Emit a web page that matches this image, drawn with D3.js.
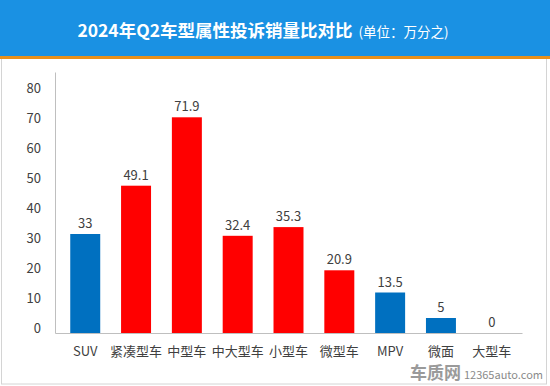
<!DOCTYPE html>
<html>
<head>
<meta charset="utf-8">
<script src="https://cdn.jsdelivr.net/npm/d3@7"></script>
<style>
  body { margin: 0; background: #fff; }
  text { font-family: "Microsoft YaHei", "Noto Sans CJK SC", "Open Sans", sans-serif; }
</style>
</head>
<body>
<svg width="550" height="386"></svg>
<script>
// categorias e valores (万分之)
const categories = ["SUV", "紧凑型车", "中型车", "中大型车", "小型车", "微型车", "MPV", "微面", "大型车"];
const values = [33, 49.1, 71.9, 32.4, 35.3, 20.9, 13.5, 5, 0];
const barColors = ["#0070C0", "#FF0000", "#FF0000", "#FF0000", "#FF0000", "#FF0000", "#0070C0", "#0070C0", "#0070C0"];
const yTicks = [0, 10, 20, 30, 40, 50, 60, 70, 80];

const svg = d3.select("svg"),
    width = +svg.attr("width"),
    height = +svg.attr("height");

// moldura e cabeçalho
svg.append("rect")
    .attr("x", 1.5).attr("y", 0.5)
    .attr("width", width - 5).attr("height", height - 2.5)
    .attr("fill", "#fff")
    .attr("stroke", "#d4d4d4");

svg.append("rect")
    .attr("x", 0).attr("y", 0)
    .attr("width", width).attr("height", 56)
    .attr("fill", "#1a91e3");

svg.append("rect")
    .attr("x", 0).attr("y", 56)
    .attr("width", width).attr("height", 3)
    .attr("fill", "#e8901c");

const title = svg.append("text")
    .attr("x", 263)
    .attr("y", 37)
    .attr("text-anchor", "middle")
    .attr("fill", "#fff");
title.append("tspan")
    .attr("font-size", 17.5)
    .attr("font-weight", "bold")
    .text("2024年Q2车型属性投诉销量比对比");
title.append("tspan")
    .attr("font-size", 13.5)
    .attr("dx", 6)
    .text("(单位：万分之)");

const x = d3.scaleBand()
    .domain(categories)
    .range([55, 522])
    .paddingInner(0.41)
    .paddingOuter(0.3);

const y = d3.scaleLinear()
    .domain([0, 87])
    .range([333, 72]);

// eixo Y
const gy = svg.append("g")
    .attr("transform", "translate(55,0)")
    .call(d3.axisLeft(y).tickValues(yTicks).tickSize(0).tickPadding(14));
gy.select(".domain").attr("stroke", "#bfbfbf");
gy.selectAll("text")
    .attr("font-size", 13)
    .attr("fill", "#404040")
    .attr("dy", "-0.05em");

// eixo X
const gx = svg.append("g")
    .attr("transform", "translate(0,333)")
    .call(d3.axisBottom(x).tickSize(0).tickPadding(14));
gx.select(".domain").attr("stroke", "#bfbfbf");
gx.selectAll("text")
    .attr("font-size", 13)
    .attr("fill", "#404040");

// barras
svg.selectAll("rect.bar")
  .data(values)
  .enter().append("rect")
    .attr("class", "bar")
    .attr("x", (d, i) => x(categories[i]))
    .attr("y", d => y(d))
    .attr("width", x.bandwidth())
    .attr("height", d => y(0) - y(d))
    .attr("fill", (d, i) => barColors[i]);

svg.selectAll("text.val")
  .data(values)
  .enter().append("text")
    .attr("class", "val")
    .attr("x", (d, i) => x(categories[i]) + x.bandwidth() / 2)
    .attr("y", d => y(d) - 6)
    .attr("text-anchor", "middle")
    .attr("font-size", 13)
    .attr("fill", "#404040")
    .text(d => d);

// marca d'água
const wm = svg.append("text")
    .attr("x", 543)
    .attr("y", 379)
    .attr("text-anchor", "end")
    .attr("fill", "#8a8a8a");
wm.append("tspan")
    .attr("font-size", 17)
    .attr("font-weight", "bold")
    .attr("fill", "#9a9a9a")
    .text("车质网");
wm.append("tspan")
    .attr("font-size", 11)
    .attr("dx", 3)
    .text("12365auto.com");
</script>
</body>
</html>
